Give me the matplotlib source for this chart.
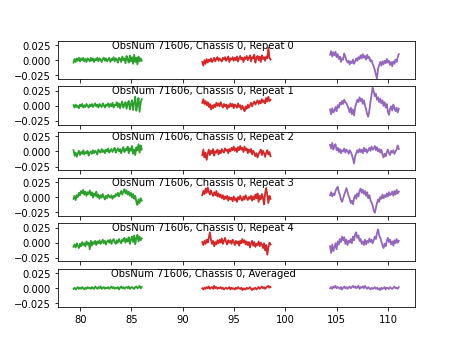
import numpy as np
import matplotlib
matplotlib.use("Agg")
import matplotlib.pyplot as plt

obsnum = 71606
chassis = 0
labels = ["Repeat 0", "Repeat 1", "Repeat 2", "Repeat 3", "Repeat 4", "Averaged"]

# frequency span (GHz) of each band
band_lo = [79.35, 91.9, 104.35]
band_hi = [86.0, 98.55, 111.05]
band_colors = ["tab:green", "tab:red", "tab:purple"]

# spectra in units of 1e-3, one list per band and per repeat
green = [
    [-4, 2, -3, 3, -1, 4, -2, 3, 0, 4, -2, 2, -3, 3, 1, -2, 4, -1, 3, -3, 2, 0, 4, -2, 3, 1, -3, 2, 4, -1, 3, -2,
     1, 4, -3, 2, 0, 5, -2, 3, 1, -4, 4, 2, -3, 6, 0, 3, -5, 7, 1, -4, 8, -2, 5, -6, 9, -3, 4, -7, 6, -2, 3, -1],
    [1, -3, 2, -2, 0, -4, 2, -1, 3, -3, 1, -2, 3, 0, -3, 2, -1, 3, -2, 1, 4, -1, 2, -3, 3, 0, -2, 4, 1, -3, 2, 0,
     4, -2, 3, -1, 5, -3, 2, 1, 6, -2, 4, -4, 3, 7, -3, 2, 6, -5, 4, 8, -6, 3, 9, -7, 5, 15, -8, 3, 13, -10, 6, 11],
    [2, -7, -2, -9, -3, 1, -6, -1, -4, 2, -5, -1, -3, 1, -7, -2, 0, -4, 2, -3, 1, -1, -5, 3, 0, -2, 4, -1, 2, -3, 3, 0,
     5, -2, 1, 4, -1, 3, 6, -2, 2, 5, 0, 4, -3, 3, 7, -1, 4, 2, 8, -3, 5, 1, 9, -4, 3, -6, 7, 2, 12, -2, 10, 3],
    [-3, 2, -5, 3, 0, 7, 3, 10, 6, 12, 4, 9, 2, 8, 5, 11, 3, 8, -1, 6, 2, 9, 0, 4, -3, 3, -1, 5, 0, -4, 2, -2,
     4, 1, -1, 3, -3, 2, 0, 5, 2, 7, 1, 6, 10, 4, 9, 13, 6, 11, 4, 9, 2, 7, -1, 5, -3, 2, -8, -13, -4, -10, -2, -6],
    [-7, -3, -8, -1, -5, -9, -2, -6, 1, -4, -1, -6, 2, -3, 0, -11, 3, -5, 1, -2, 3, -4, 2, -1, 4, -2, 1, 5, -1, 3, -3, 2,
     4, 0, 5, -2, 3, 6, 1, -2, 4, 0, 6, 2, -1, 5, 3, 8, 0, 6, 2, 9, -2, 5, 10, 1, 12, -3, 8, 13, 2, 10, 4, 7],
    [-1, 1, -2, 0, 2, -1, 1, -1, 2, 0, -2, 1, -1, 2, 0, 1, -1, 2, 0, -1, 3, 1, -1, 2, 0, 3, -1, 1, 2, -1, 1, 0,
     2, -1, 1, 3, 0, 2, -1, 1, 0, 2, -2, 1, 3, 0, 2, -1, 1, 2, 0, 3, -1, 1, 2, 0, -1, 2, 3, 0, 1, 4, 0, 2],
]
red = [
    [-3, -9, 0, -6, 2, -4, 1, -2, 3, -3, 0, 4, -2, 2, 5, -1, 3, 0, -2, 4, 1, 5, -1, 2, 6, -3, 3, 1, 5, -1, 4, 0,
     6, -2, 3, 7, 1, 4, -3, 5, 2, 7, 0, 4, 8, -2, 5, 3, 9, -4, 4, 7, 0, 6, -3, 8, 2, 5, -1, 6, 3, 21, 4, 1],
    [5, 11, 3, 8, 1, 6, -2, 3, -6, 1, -4, 2, -2, 5, 0, 4, -1, 6, 1, -3, 3, -1, 2, -5, 1, -2, 4, -1, 3, -4, 2, 0,
     -3, 4, -2, 1, -6, 0, -4, -9, -1, -5, 2, -3, 1, 5, -1, 4, 7, 2, 6, 9, 3, 8, 4, 11, 6, 9, 4, 13, 7, 15, 8, 10],
    [-6, 3, -10, -2, -14, -4, 3, -6, 1, -3, 4, -7, 0, -2, 3, -5, 1, -3, 4, 0, -2, 5, 1, 3, -3, 4, 0, 6, 2, 8, 1, 5,
     -1, 7, 2, 9, 3, 6, -1, 8, 2, 5, -3, 3, -1, 4, -5, 1, -2, -8, -3, -10, -4, -1, 3, -6, 1, -3, -9, -2, 2, -5, -1, -8],
    [3, 10, 5, 14, 7, 16, 9, 4, 11, 6, 2, 8, 3, 10, 1, 6, 0, 4, -2, 3, -4, 1, -3, 2, -6, 0, -4, -1, -7, 1, -5, -2,
     -8, 0, -4, 2, -3, -6, 1, -4, 3, -2, -5, 0, -3, 2, -6, 1, -4, 4, -2, 6, -8, 2, -4, 5, -1, -12, 6, 15, 3, -10, 2, -3],
    [1, -4, 3, -2, 5, 0, 8, 17, 5, -2, 3, -6, 1, -3, 4, -1, 5, 0, 7, -2, 3, 8, 1, -3, 4, 0, 3, -2, 5, 1, -4, 3,
     -1, 2, -5, 3, -1, 6, 0, 4, -3, 2, -4, 1, -8, -2, 3, -5, 1, -7, -2, -4, 2, -6, 0, -3, -9, -1, -13, -4, -20, -8, 0, -3],
    [0, -2, 1, -1, 2, 0, 3, -1, 1, 2, -1, 4, 0, 2, -1, 1, 0, 2, -1, 1, -2, 0, 1, -1, 0, 2, -2, 1, -1, 0, -2, 1,
     -1, 2, 0, -1, 1, -3, 0, -1, -2, 1, -1, 0, 2, -1, -3, 0, -1, 1, -2, 0, 2, -1, 1, 3, 0, 2, -1, 1, 3, 4, 1, 2],
]
purple = [
    [9, 15, 6, 13, 8, 14, 5, 10, 2, 6, -3, 3, 1, 11, 6, 0, -4, -1, -7, -2, -5, 1, -6, -2, 3, -1, 5, 2, 8, 3, 10, 4,
     7, 1, 9, 3, 5, -2, 0, -6, -10, -16, -24, -30, -14, -8, -3, -9, -2, -7, -1, -5, 2, -4, -1, -8, -3, -10, -2, -6, 1, -3, 5, 10],
    [-6, -14, -4, -11, -8, -2, -9, 1, -3, 5, 2, 8, 3, 10, 6, 4, 0, -5, -11, -3, -14, -6, -16, -2, 4, 10, 6, 14, 8, 12, 3, 9,
     1, -6, -14, -18, -8, 6, 18, 30, 24, 16, 20, 10, 14, 6, 12, 4, 9, 0, 6, -3, 3, -10, -15, -5, -1, -8, 2, -4, -9, -3, -11, -5],
    [11, 5, 14, 3, 9, 12, 2, 6, -1, 4, -3, 2, 0, 5, -2, 3, 1, -4, 2, -1, -6, -12, -20, -8, -3, 2, -2, 4, -1, 3, -3, 6,
     0, 4, -2, 2, 6, 1, 8, 3, 5, 9, 2, 7, 0, 4, -2, 3, -5, -10, -4, -8, -1, 3, -3, -6, 1, -2, 2, -4, 0, 3, 10, 4],
    [3, 8, 1, 6, 3, 10, 14, 17, 8, 4, -4, -8, -2, 4, 9, 15, 8, 2, -3, -10, -6, -12, -2, 3, -3, 6, 1, 10, 14, 7, 12, 5,
     10, 2, 8, -2, 3, -5, -9, -14, -22, -26, -18, -10, -4, -8, 0, -3, 4, -2, 3, 0, 6, 1, 8, 3, 5, 9, 2, 10, 4, 12, 6, 9],
    [-6, -17, -3, -14, -8, -1, -11, 2, -3, 6, 1, 10, 4, 9, -2, 5, -4, 3, 0, 6, -1, 10, 4, 14, 17, 8, 12, 3, 6, -2, 2, -4,
     5, -3, 3, 0, 7, 1, 5, -1, 4, 10, 6, 16, 22, 12, 8, 2, -4, -9, -2, -6, 3, 8, 1, 5, -3, 2, -5, 4, -1, 6, 0, 3],
    [0, 2, -1, 3, 1, 4, 0, 2, 1, -1, 2, -2, 1, 3, 0, 2, -1, 1, 3, 0, 2, 4, 1, 3, 0, 2, 4, -1, 2, 1, 3, 0,
     4, 1, -1, 2, 0, -2, 1, -1, 0, 2, -1, 1, -2, 0, -3, 1, -1, 0, 2, -2, 1, 0, -1, 2, 0, -1, 1, 3, 0, 1, -1, 2],
]

fig, axes = plt.subplots(6, 1, sharex=True, sharey=True, figsize=(6.4, 4.8), dpi=72)

for i, ax in enumerate(axes):
    for b, spec in enumerate([green[i], red[i], purple[i]]):
        y = np.array(spec) * 1e-3
        x = np.linspace(band_lo[b], band_hi[b], len(y))
        ax.plot(x, y, color=band_colors[b], lw=1.8)
    ax.text(92, 0.02, f"ObsNum {obsnum}, Chassis {chassis}, {labels[i]}", ha="center")
    ax.set_yticks([-0.025, 0.0, 0.025])

axes[0].set_ylim(-0.031, 0.032)
axes[0].set_xlim(77.8, 112.6)

fig.savefig("out.png", dpi=72)
